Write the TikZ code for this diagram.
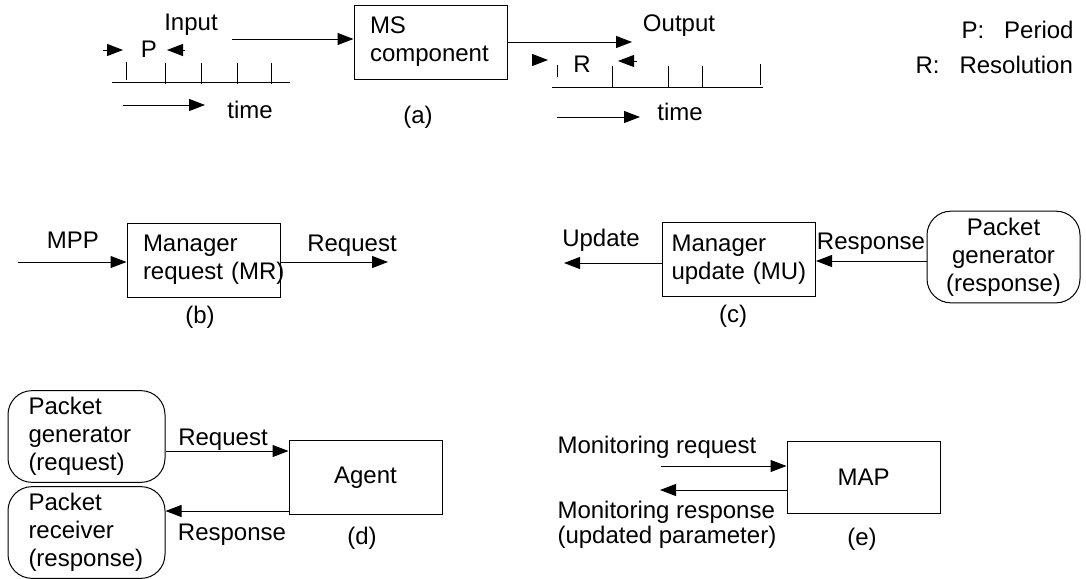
\documentclass[tikz,border=0pt]{standalone}
\usepackage{fontspec}
\setmainfont{Liberation Sans}
\usetikzlibrary{arrows.meta, positioning}

\begin{document}
\begin{tikzpicture}[%
    x = 0.5pt,
    y = -0.5pt,
    >= { Triangle[length=8pt, width=6pt] },
    line width = 0.5pt,
    font = \fontsize{12}{14}\selectfont,
    box/.style = {%
      draw,
      minimum width = 76.5pt,
      minimum height = 37pt },
    lbox/.style = {%
      box,
      align = left,
      text width = 60.5pt,
      inner xsep = 8pt },
    rbox/.style = {%
      draw,
      rounded corners = 12pt,
      minimum width = 78.5pt,
      minimum height = 44.5pt },
    lbl/.style = {%
      inner sep = 0pt,
      anchor = base }
  ]
\useasboundingbox (0,0) rectangle (1086,578);

% (a) component with its input and output
\node[lbox] (ms) at (430.5,42) {MS\\\mbox{component}};
\node[lbl] (inp) at (191,30) {Input};
\node[lbl] (outp) at (679,32) {Output};
\coordinate (inend) at (232,39);
\coordinate (outend) at (632,42);
\draw[->] (inend) -- (inend -| ms.west);
\draw[->] (ms.east |- outend) -- (outend);

% time axes
\draw (112,82) -- (290,82);
\draw (126,62) -- (126,80);
\foreach \t in {165,201,237,271} \draw (\t,63) -- (\t,84);
\draw (552,87) -- (763,87);
\draw (557,65) -- (557,77);
\foreach \t in {612,668,702} \draw (\t,66) -- (\t,87);
\draw (760,64) -- (760,85);

\node[lbl] (p) at (149,57) {P};
\draw[->] (103,50) -- (123,50);
\draw[->] (185,50) -- (167,50);
\node[lbl] (r) at (582,72) {R};
\draw[->] (532,60) -- (548,60);
\draw[->] (637,61) -- (618,61);

\draw[->] (123,105) -- (205,105);
\node[lbl] (tl) at (250,118) {time};
\draw[->] (557,117) -- (640,117);
\node[lbl] (tr) at (680,120) {time};
\node[lbl] (a) at (418,123) {(a)};

\node[lbl, anchor=base west] (kp) at (961,38) {P:\hspace{10pt}Period};
\node[lbl, anchor=base west] (kr) at (915,73) {R:\hspace{10pt}Resolution};

% (b)
\node[lbox] (mr) at (203.5,260) {Manager\\\mbox{request (MR)}};
\node[lbl] (mpp) at (73,248) {MPP};
\node[lbl] (rqb) at (352,251) {Request};
\coordinate (mppin) at (18,262);
\coordinate (rqout) at (388,262);
\draw[->] (mppin) -- (mppin -| mr.west);
\draw[->] (rqout -| mr.east) -- (rqout);
\node[lbl] (b) at (200,323) {(b)};

% (c)
\node[lbox, inner xsep=4.5pt, text width=67.5pt] (mu) at (739,259.5) {Manager\\\mbox{update (MU)}};
\node[rbox, minimum width=76.5pt, minimum height=44pt, align=center] (pgs) at (1003.5,257) {Packet\\generator\\(response)};
\node[lbl] (upd) at (601,246) {Update};
\node[lbl] (rsc) at (871,249) {Response};
\coordinate (upout) at (564,263);
\draw[->] (upout -| mu.west) -- (upout);
\draw[->] ([yshift=-2pt]pgs.west) -- ([yshift=-2pt]pgs.west -| mu.east);
\node[lbl] (c) at (733,322) {(c)};

% (d)
\node[rbox, align=left, text width=58pt, inner xsep=10.25pt] (pgq) at (86.5,436.5) {Packet\\generator\\\mbox{(request)}};
\node[rbox, align=left, text width=58pt, inner xsep=10.25pt] (prs) at (86.5,532.5) {Packet\\receiver\\\mbox{(response)}};
\node[box] (agent) at (365.5,477.5) {Agent};
\draw[->] ([yshift=-7.25pt]pgq.east) -- ([yshift=-7.25pt]pgq.east -| agent.west);
\draw[->] ([yshift=-16.75pt]agent.west) -- ([yshift=-16.75pt]agent.west -| prs.east);
\node[lbl] (rqd) at (223,445) {Request};
\node[lbl] (rsd) at (232,540) {Response};
\node[lbl] (d) at (362,544) {(d)};

% (e)
\node[box, minimum height=36pt] (map) at (863.5,477) {MAP};
\node[lbl, anchor=base west] (mq) at (557,453) {Monitoring request};
\node[lbl, anchor=base west] (mrs) at (557,518) {Monitoring response};
\node[lbl, anchor=base west] (mpar) at (557,543) {(updated parameter)};
\coordinate (mqin) at (661,466);
\coordinate (mrout) at (660,490);
\draw[->] (mqin) -- (mqin -| map.west);
\draw[->] (mrout -| map.west) -- (mrout);
\node[lbl] (e) at (862,545) {(e)};

\end{tikzpicture}
\end{document}
